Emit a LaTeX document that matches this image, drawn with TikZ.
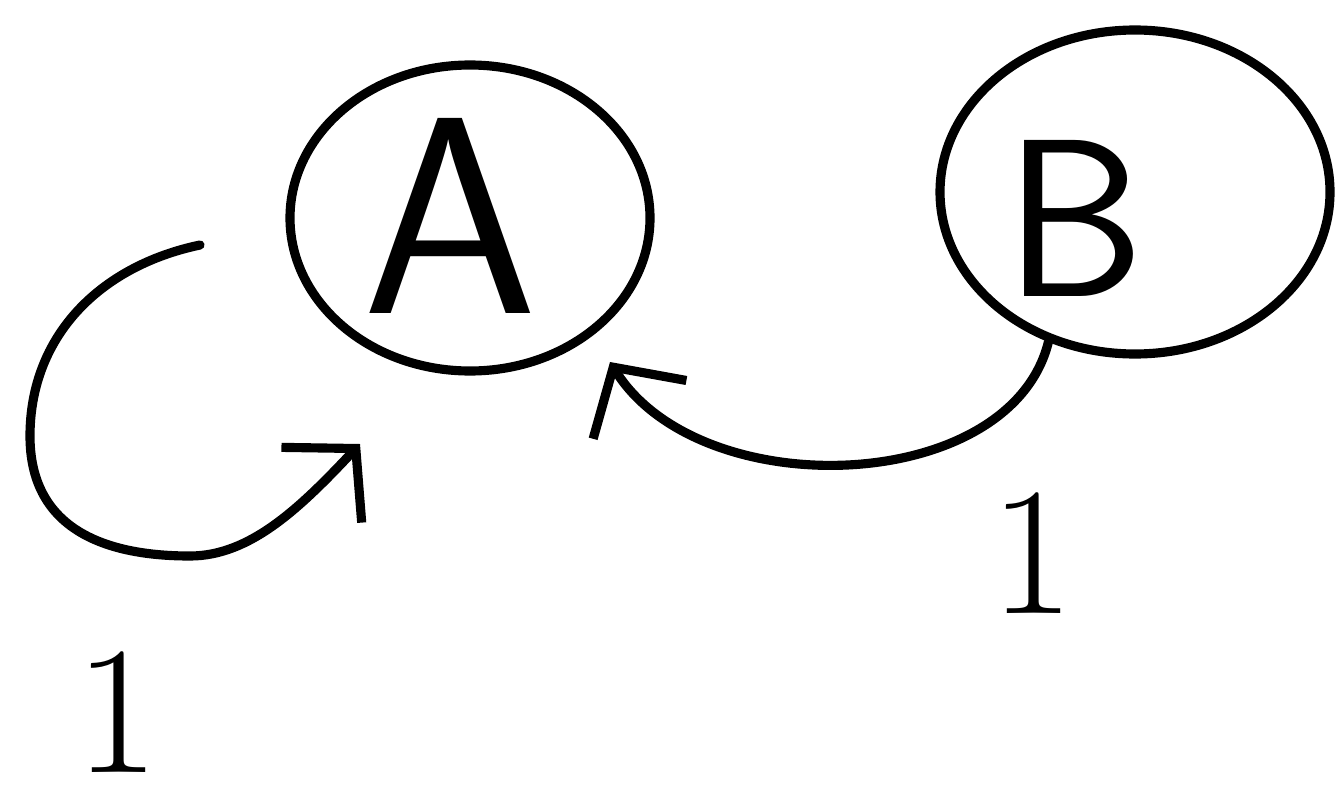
\documentclass[tikz,border=0pt]{standalone}
\usetikzlibrary{shapes.geometric,arrows.meta}
\begin{document}
\begin{tikzpicture}[
  stroke/.style={line width=2.6pt, line cap=round, line join=round, black},
  statenode/.style={stroke, draw, ellipse, inner sep=0pt},
  conn/.style={stroke, -{Straight Barb[length=5mm,width=11mm,line width=2.6pt]}},
  bigtext/.style={font=\sffamily\fontsize{80}{80}\selectfont},
  midtext/.style={font=\sffamily\fontsize{64}{64}\selectfont},
  numtext/.style={inner sep=0pt, font=\fontsize{52}{52}\selectfont}
]
\useasboundingbox (0,0) rectangle (13.4,7.96);
% nodes
\node[statenode, minimum width=3.6cm, minimum height=3.06cm] (A) at (4.70,5.78) {};
\node[statenode, minimum width=3.9cm, minimum height=3.24cm] (B) at (11.35,6.04) {};
\node[bigtext] (Alab) at (4.50,5.80) {A};
\node[midtext] (Blab) at (10.75,5.78) {B};
% connector endpoints
\coordinate (loopstart) at (2.0,5.51);
\coordinate (loopmid) at (0.3,3.6);
\coordinate (loopbot) at (1.9,2.4);
\coordinate (looptip) at (3.6,3.52);
\coordinate (btip) at (6.1,4.34);
% self loop
\draw[conn] (loopstart) .. controls (1.0,5.3) and (0.3,4.6) .. (loopmid)
  .. controls (0.3,2.7) and (1.0,2.4) .. (loopbot)
  .. controls (2.5,2.4) and (3.0,2.88) .. (looptip);
% B to A
\draw[conn] (B.240) .. controls (10.1,3.0) and (7.0,2.9) .. (btip);
% labels
\node[numtext] (l1) at (1.17,0.84) {1};
\node[numtext] (l2) at (10.32,2.43) {1};
\end{tikzpicture}
\end{document}
